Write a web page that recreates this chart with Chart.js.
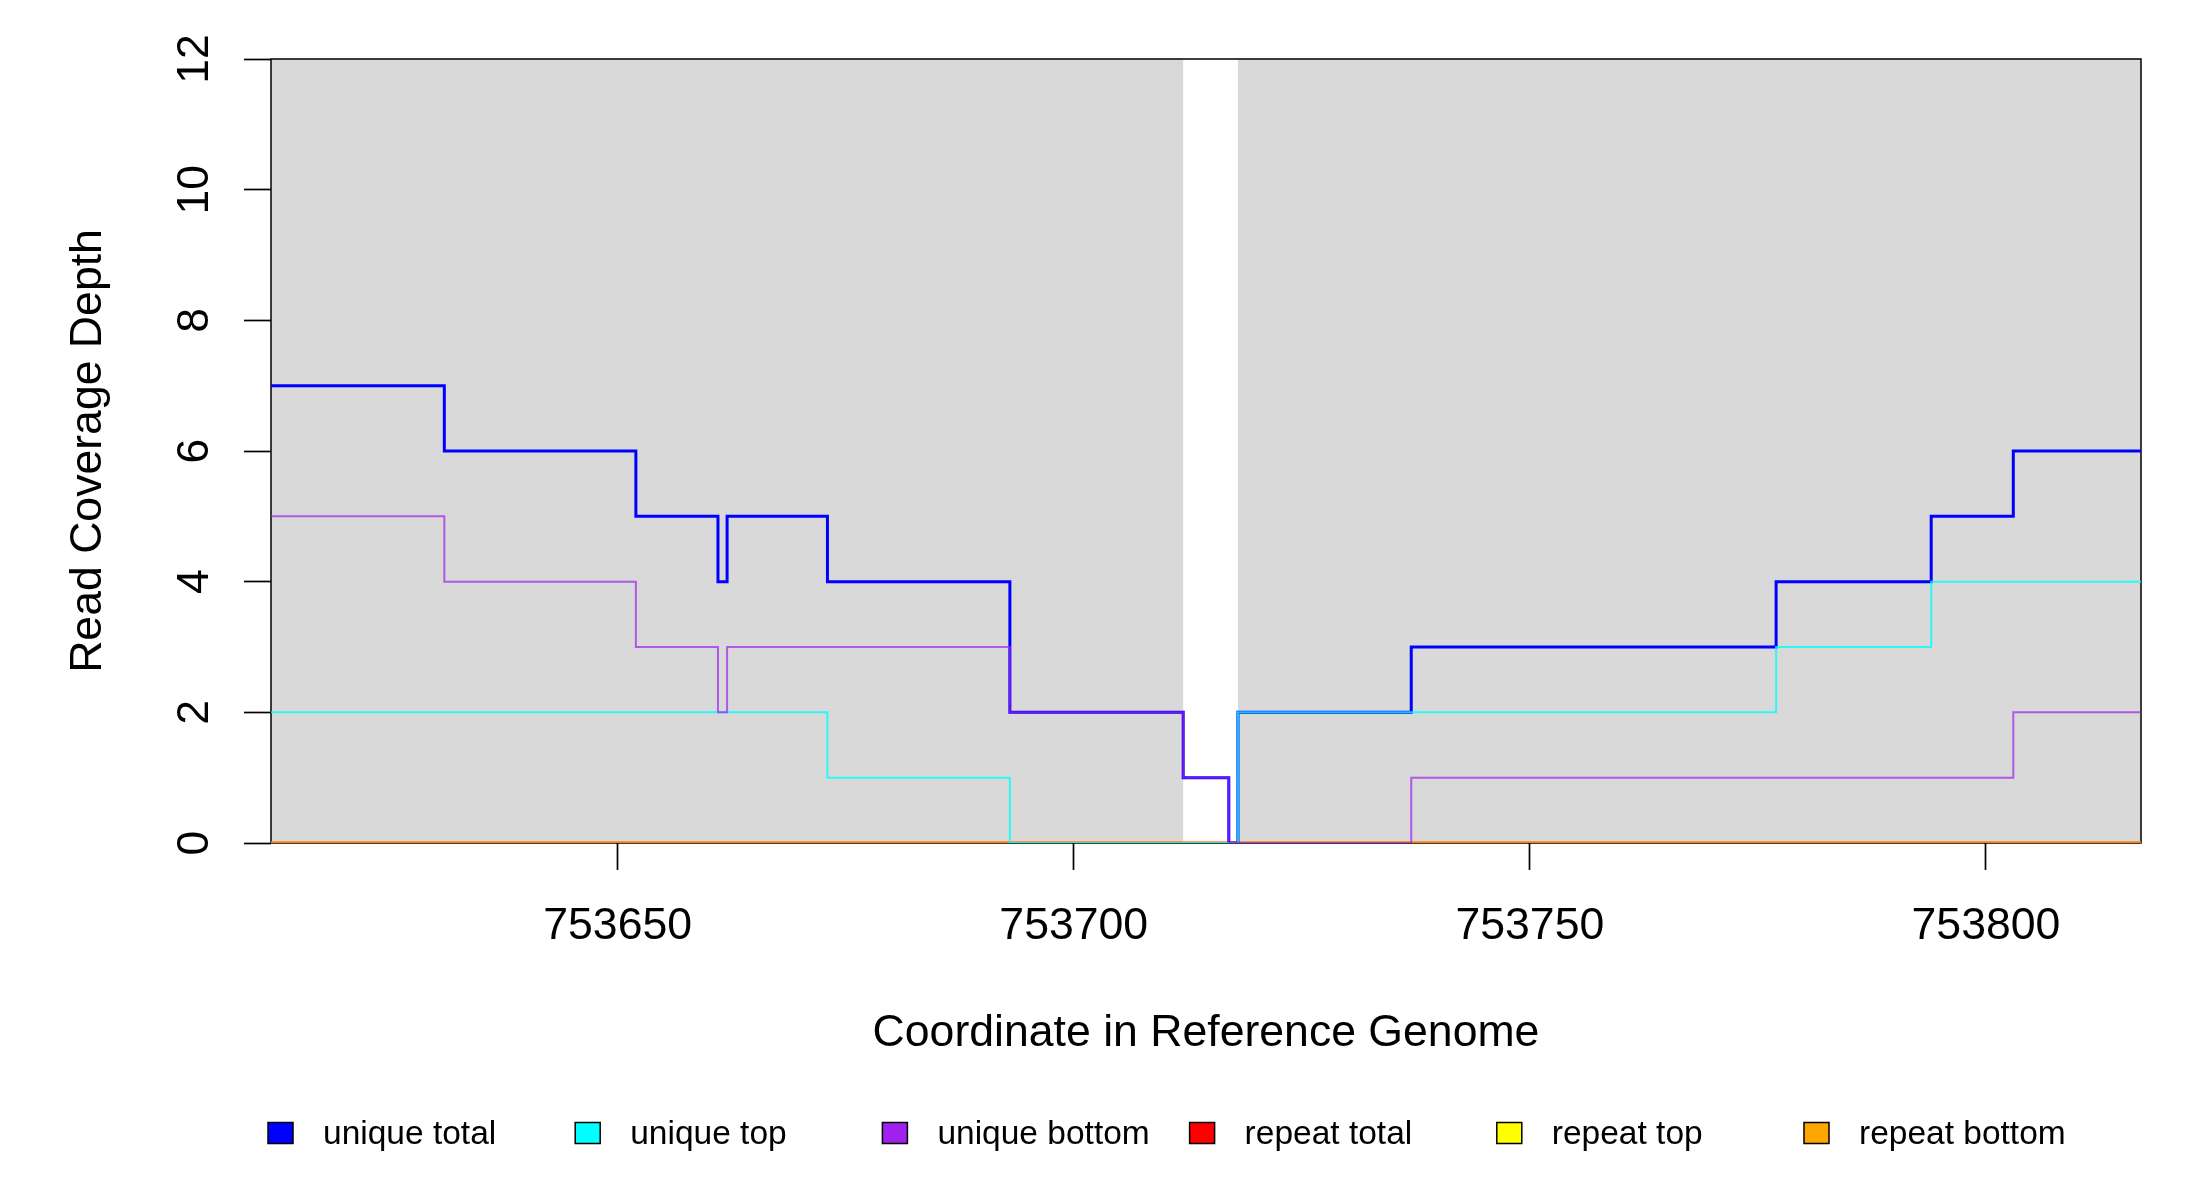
<!DOCTYPE html>
<html>
<head>
<meta charset="utf-8">
<title>Read Coverage Depth</title>
<script src="https://cdn.jsdelivr.net/npm/chart.js@4.4.1/dist/chart.umd.min.js"></script>
<style>
  html, body { margin: 0; padding: 0; background: #ffffff; }
  #wrap { width: 2200px; height: 1200px; position: relative; }
</style>
</head>
<body>
<div id="wrap"><canvas id="coverageChart" width="2200" height="1200"></canvas></div>
<script>
// Coverage data (coordinate where each step starts, last entry = end of window)
const positions = [753612, 753631, 753652, 753661, 753662, 753673, 753693, 753712, 753717, 753718, 753737, 753777, 753794, 753803, 753817];
const uniqueTotal = [7, 6, 5, 4, 5, 4, 2, 1, 0, 2, 3, 4, 5, 6, 6];
const uniqueTop = [2, 2, 2, 2, 2, 1, 0, 0, 0, 2, 2, 3, 4, 4, 4];
const uniqueBottom = [5, 4, 3, 2, 3, 3, 2, 1, 0, 0, 1, 1, 1, 2, 2];
const repeatTotal = [0, 0, 0, 0, 0, 0, 0, 0, 0, 0, 0, 0, 0, 0, 0];
const repeatTop = [0, 0, 0, 0, 0, 0, 0, 0, 0, 0, 0, 0, 0, 0, 0];
const repeatBottom = [0, 0, 0, 0, 0, 0, 0, 0, 0, 0, 0, 0, 0, 0, 0];

// Shaded regions (grey background blocks)
const shadeStart = [753612, 753718];
const shadeEnd = [753712, 753817];

// Axis setup
const xMin = 753612, xMax = 753817, xStep = 50;
const yMin = 0, yMax = 12, yStep = 2;

const legendNames = ['unique total', 'unique top', 'unique bottom', 'repeat total', 'repeat top', 'repeat bottom'];
const legendColors = ['#0000FF', '#00FFFF', '#A020F0', '#FF0000', '#FFFF00', '#FFA500'];

const FONT = '"Liberation Sans", Arial, Helvetica, sans-serif';

function toPoints(values) {
    return positions.map((p, i) => ({ x: p, y: values[i] }));
}

function stepSet(label, values, color, width, order) {
    return {
        label: label,
        data: toPoints(values),
        borderColor: color,
        borderWidth: width,
        stepped: true,
        pointRadius: 0,
        fill: false,
        order: order
    };
}

// grey blocks + plot box, drawn under the lines
const shadePlugin = {
    id: 'shade',
    beforeDatasetsDraw(chart) {
        const ctx = chart.ctx;
        const xs = chart.scales.x, ys = chart.scales.y;
        const top = ys.getPixelForValue(yMax), bottom = ys.getPixelForValue(yMin);
        ctx.save();
        ctx.fillStyle = '#D9D9D9';
        for (let i = 0; i < shadeStart.length; i++) {
            const x1 = xs.getPixelForValue(shadeStart[i]);
            const x2 = xs.getPixelForValue(shadeEnd[i]);
            ctx.fillRect(x1, top, x2 - x1, bottom - top);
        }
        ctx.strokeStyle = '#000000';
        ctx.lineWidth = 1.5;
        const a = chart.chartArea;
        ctx.strokeRect(a.left, a.top, a.right - a.left, a.bottom - a.top);
        ctx.restore();
    }
};

// tick labels, axis titles and the horizontal legend, R style
const textPlugin = {
    id: 'rtext',
    afterDraw(chart) {
        const ctx = chart.ctx;
        const xs = chart.scales.x, ys = chart.scales.y;
        const a = chart.chartArea;
        ctx.save();
        ctx.fillStyle = '#000000';
        ctx.font = '44.6px ' + FONT;
        ctx.textBaseline = 'alphabetic';

        // x tick labels
        ctx.textAlign = 'center';
        xs.ticks.forEach(t => {
            ctx.fillText(String(t.value), xs.getPixelForValue(t.value), 939);
        });

        // y tick labels (rotated, parallel to axis)
        ys.ticks.forEach(t => {
            ctx.save();
            ctx.translate(208, ys.getPixelForValue(t.value));
            ctx.rotate(-Math.PI / 2);
            ctx.fillText(String(t.value), 0, 0);
            ctx.restore();
        });

        // axis titles
        ctx.fillText('Coordinate in Reference Genome', (a.left + a.right) / 2, 1046);
        ctx.save();
        ctx.translate(101, (a.top + a.bottom) / 2);
        ctx.rotate(-Math.PI / 2);
        ctx.fillText('Read Coverage Depth', 0, 0);
        ctx.restore();

        // legend
        ctx.font = '33.5px ' + FONT;
        ctx.textAlign = 'left';
        ctx.lineWidth = 1.5;
        ctx.strokeStyle = '#000000';
        legendNames.forEach((name, i) => {
            const bx = 268 + i * 307.2;
            ctx.fillStyle = legendColors[i];
            ctx.fillRect(bx, 1122.5, 25, 21);
            ctx.strokeRect(bx, 1122.5, 25, 21);
            ctx.fillStyle = '#000000';
            ctx.fillText(name, bx + 55, 1144);
        });
        ctx.restore();
    }
};

function initializeCoverageChart() {
    const ctx = document.getElementById('coverageChart');

    const config = {
        type: 'line',
        data: {
            datasets: [
                stepSet('repeat top', repeatTop, 'rgba(255, 255, 0, 0.6)', 3, 7),
                stepSet('repeat total', repeatTotal, 'rgba(255, 0, 0, 0.6)', 3, 6),
                stepSet('repeat bottom', repeatBottom, 'rgba(255, 140, 0, 0.8)', 3, 5),
                stepSet('unique total', uniqueTotal, '#0000FF', 3, 4),
                stepSet('unique top', uniqueTop, 'rgba(0, 255, 255, 0.8)', 2, 3),
                stepSet('unique bottom', uniqueBottom, 'rgba(160, 32, 240, 0.7)', 2, 2)
            ]
        },
        options: {
            responsive: false,
            devicePixelRatio: 1,
            animation: false,
            events: [],
            layout: {
                padding: { top: 59, right: 59, left: 0, bottom: 0 }
            },
            plugins: {
                legend: { display: false },
                tooltip: { enabled: false }
            },
            scales: {
                x: {
                    type: 'linear',
                    min: xMin,
                    max: xMax,
                    border: { display: false },
                    grid: {
                        drawOnChartArea: false,
                        drawTicks: true,
                        tickLength: 27,
                        tickColor: '#000000',
                        tickWidth: 1.7
                    },
                    ticks: {
                        stepSize: xStep,
                        includeBounds: false,
                        display: false
                    },
                    afterFit: function(scale) { scale.height = 357; }
                },
                y: {
                    type: 'linear',
                    min: yMin,
                    max: yMax,
                    border: { display: false },
                    grid: {
                        drawOnChartArea: false,
                        drawTicks: true,
                        tickLength: 27,
                        tickColor: '#000000',
                        tickWidth: 1.7
                    },
                    ticks: {
                        stepSize: yStep,
                        display: false
                    },
                    afterFit: function(scale) { scale.width = 271; }
                }
            }
        },
        plugins: [shadePlugin, textPlugin]
    };

    try {
        new Chart(ctx, config);
    } catch (error) {
        console.error('Error initializing coverage chart:', error);
    }
}

initializeCoverageChart();
</script>
</body>
</html>
